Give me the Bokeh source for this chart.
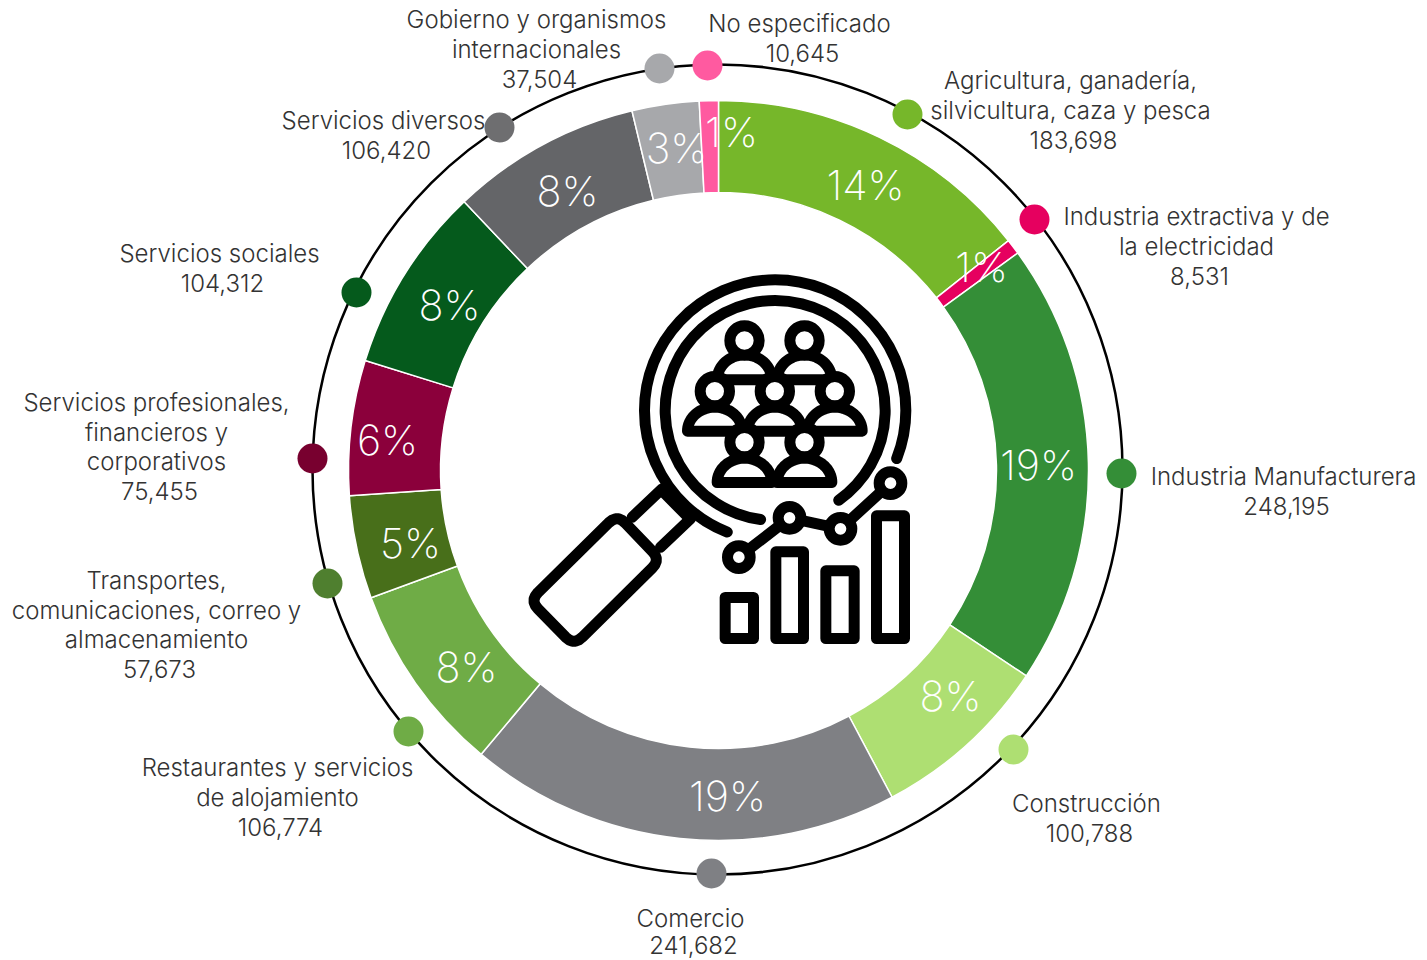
import math
import numpy as np
from bokeh.plotting import figure
from bokeh.models import ColumnDataSource, Range1d
from bokeh.core.properties import value
from bokeh.embed import file_html
from bokeh.resources import INLINE

# ---------- data ----------
categories = [
    ["Agricultura, ganadería,", "silvicultura, caza y pesca"],
    ["Industria extractiva y de", "la electricidad"],
    ["Industria Manufacturera"],
    ["Construcción"],
    ["Comercio"],
    ["Restaurantes y servicios", "de alojamiento"],
    ["Transportes,", "comunicaciones, correo y", "almacenamiento"],
    ["Servicios profesionales,", "financieros y", "corporativos"],
    ["Servicios sociales"],
    ["Servicios diversos"],
    ["Gobierno y organismos", "internacionales"],
    ["No especificado"],
]
values = [183698, 8531, 248195, 100788, 241682, 106774, 57673, 75455, 104312, 106420, 37504, 10645]
percent_labels = ["14%", "1%", "19%", "8%", "19%", "8%", "5%", "6%", "8%", "8%", "3%", "1%"]
colors = ["#76B72A", "#E6005F", "#348E37", "#AEDF72", "#7F8084", "#6FAC46",
          "#486F1A", "#8B003B", "#055A1C", "#646568", "#A7A8AB", "#FF5AA0"]
dot_colors = ["#76B72A", "#E6005F", "#348E37", "#AEDF72", "#7F8084", "#6FAC46",
              "#4F7F2F", "#78002F", "#055A1C", "#6E6E70", "#A7A8AB", "#FF5AA0"]

# ---------- layout (screen pixels of the page) ----------
CX, CY = 719, 471
R_OUT, R_IN = 370, 278
def X(s): return s - CX
def Y(s): return CY - s

dot_xy = [(908, 115), (1035, 220), (1122, 474), (1014, 750), (712, 874), (409, 732),
          (328, 584), (313, 459), (357, 293), (500, 128), (660, 69), (708, 66)]
pct_xy = [(866, 185), (982, 267), (1039, 465), (951, 696), (728, 796), (467, 667),
          (411, 543), (388, 440), (450, 305), (568, 191), (677, 148), (732, 132)]
label_xy = [(1071, 81), (1197, 217), (1284, 477), (1087, 804), (691, 919), (278, 768),
            (157, 581), (157, 403), (220, 254), (384, 121), (537, 20), (800, 24)]
LINE_H = 29.5
LAST_LINE_NUDGE = {"Comercio": -3}   # keeps the lowest text inside the page
LABEL_FONT = "Inter Light"
LABEL_SIZE = "24px"
PCT_FONT = "Inter ExtraLight"
PCT_SIZE = "41.5px"

p = figure(width=1427, height=960, output_backend="svg", toolbar_location=None,
           x_range=Range1d(1 - CX, 1428 - CX), y_range=Range1d(CY - 961, CY - 1),
           min_border=0)
p.axis.visible = False
p.grid.visible = False
p.outline_line_color = None
p.background_fill_color = "white"

# ---------- donut ----------
fr = np.array(values) / sum(values) * 2 * math.pi
cum = np.concatenate([[0], np.cumsum(fr)])
src = ColumnDataSource(dict(start=math.pi / 2 - cum[:-1], end=math.pi / 2 - cum[1:], color=colors))
p.annular_wedge(x=0, y=0, inner_radius=R_IN, outer_radius=R_OUT, start_angle="start", end_angle="end",
                direction="clock", fill_color="color", line_color="white", line_width=1.5, source=src)

# outer ring
p.arc(x=[X(718)], y=[Y(470)], radius=405, start_angle=0, end_angle=2 * math.pi,
      line_color="black", line_width=2.5)

# dots
p.circle(x=[X(a) for a, b in dot_xy], y=[Y(b) for a, b in dot_xy], radius=15,
         fill_color=dot_colors, line_color=None)

# percent labels
p.text(x=[X(a) for a, b in pct_xy], y=[Y(b) for a, b in pct_xy], text=percent_labels,
       text_color="white", text_font=value(PCT_FONT), text_font_size=PCT_SIZE,
       text_align="center", text_baseline="middle")

# category labels
tx, ty, tt = [], [], []
for lines, v, (a, b) in zip(categories, values, label_xy):
    for i, line in enumerate(lines):
        tx.append(X(a)); ty.append(Y(b + i * LINE_H)); tt.append(line)
    tx.append(X(a + 3)); ty.append(Y(b + len(lines) * LINE_H + LAST_LINE_NUDGE.get(lines[0], 0)))
    tt.append(f"{v:,}")
p.text(x=tx, y=ty, text=tt, text_color="#333333", text_font=value(LABEL_FONT),
       text_font_size=LABEL_SIZE, text_align="center", text_baseline="middle")

# ---------- central icon (zoomed-crop coordinates -> page) ----------
ZX = lambda z: X(521 + z / 3)
ZY = lambda z: Y(271 + z / 3)
ZR = lambda z: z / 3
SW = 11
ink = "black"

# lens arcs
p.arc(x=[ZX(764)], y=[ZY(420)], radius=ZR(392), start_angle=math.radians(-21.6),
      end_angle=math.radians(248.5), direction="anticlock", line_color=ink, line_width=SW, line_cap="round")
p.arc(x=[ZX(764)], y=[ZY(420)], radius=ZR(330), start_angle=math.radians(-54.7),
      end_angle=math.radians(262.4), direction="anticlock", line_color=ink, line_width=SW, line_cap="round")

# handle
def rounded(poly, cut=35, n=6):
    pts = []
    m = len(poly)
    for i in range(m):
        p0, p1, p2 = np.array(poly[i - 1], float), np.array(poly[i], float), np.array(poly[(i + 1) % m], float)
        a = p1 + (p0 - p1) / np.linalg.norm(p0 - p1) * cut
        b = p1 + (p2 - p1) / np.linalg.norm(p2 - p1) * cut
        for t in np.linspace(0, 1, n):
            pts.append((1 - t) ** 2 * a + 2 * t * (1 - t) * p1 + t ** 2 * b)
    return pts

for seg in [((425, 655), (335, 740)), ((510, 745), (420, 830)), ((432, 668), (498, 735))]:
    p.line([ZX(seg[0][0]), ZX(seg[1][0])], [ZY(seg[0][1]), ZY(seg[1][1])], line_color=ink,
           line_width=SW, line_cap="round")
hd = rounded([(290, 732), (420, 868), (160, 1125), (28, 990)])
p.patch([ZX(q[0]) for q in hd], [ZY(q[1]) for q in hd], fill_color="white", line_color=ink,
        line_width=SW, line_join="round")

# people
rows = [(328, 75, [672, 852]), (482, 72, [583, 763, 943]), (636, 73, [672, 852])]
heads = [(672, 210), (852, 210), (583, 362), (763, 362), (943, 362), (672, 515), (852, 515)]
tt_ = np.linspace(math.pi, 0, 40)
for base, h, xs in rows:
    for c in xs:
        ex = c + 82 * np.cos(tt_)
        ey = base - h * np.sin(tt_)
        p.patch([ZX(v) for v in ex], [ZY(v) for v in ey], fill_color="white", line_color=ink,
                line_width=SW, line_join="round")
p.circle(x=[ZX(a) for a, b in heads], y=[ZY(b) for a, b in heads], radius=ZR(44),
         fill_color="white", line_color=ink, line_width=SW)

# trend line
trend = [(655, 860), (807, 742), (960, 775), (1110, 638)]
p.line([ZX(a) for a, b in trend], [ZY(b) for a, b in trend], line_color=ink, line_width=SW)
p.circle(x=[ZX(a) for a, b in trend], y=[ZY(b) for a, b in trend], radius=ZR(34),
         fill_color="white", line_color=ink, line_width=SW)

# small bars
bars = [(614, 699, 981), (766, 849, 844), (916, 1001, 901), (1068, 1152, 736)]
p.quad(left=[ZX(b[0]) for b in bars], right=[ZX(b[1]) for b in bars],
       top=[ZY(b[2]) for b in bars], bottom=[ZY(1104)] * 4,
       fill_color="white", line_color=ink, line_width=SW, line_join="round")

open("out.html", "w").write(file_html(p, INLINE))
